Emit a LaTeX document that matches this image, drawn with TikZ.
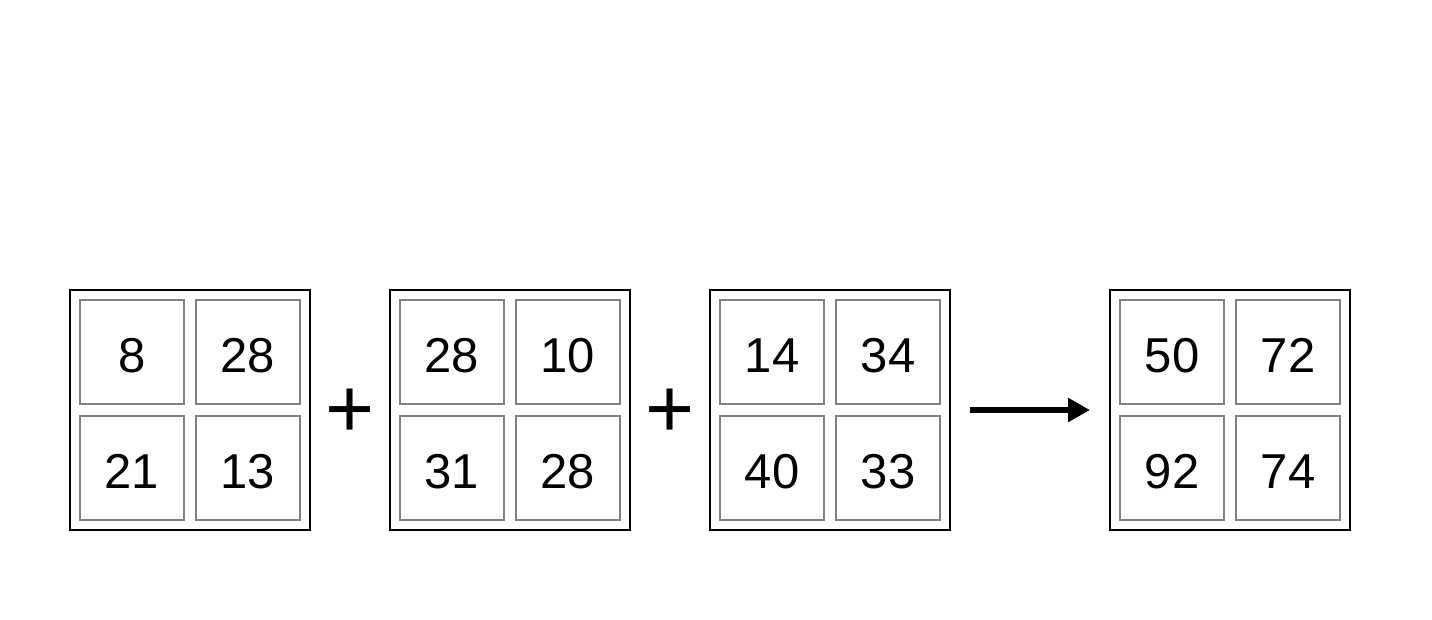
\documentclass[tikz,border=0pt]{standalone}
\usepackage{fontspec}
\setmainfont{Liberation Sans}
\usetikzlibrary{arrows.meta,positioning,calc}

\begin{document}
\begin{tikzpicture}[
    x=1pt, y=-1pt,
    grid/.style={rectangle, draw=black, line width=1.2pt, fill=white, minimum size=240pt, inner sep=0pt, outer sep=0pt},
    cell/.style={rectangle, draw=gray, line width=1.6pt, fill=white, minimum size=104pt, inner sep=0pt, outer sep=0pt, text height=40pt, text depth=0pt, font=\fontsize{49}{58}\selectfont},
    op/.style={inner sep=0pt, yshift=-3pt, font=\fontsize{84}{96}\selectfont},
    arr/.style={line width=5.8pt, -{Triangle[length=22pt,width=23pt]}},
    node distance=6pt and 6pt
]
    \useasboundingbox (0,0) rectangle (1432,619);
    % four 2x2 grids
    \foreach \g/\cx/\va/\vb/\vc/\vd in {a/190/8/28/21/13, b/510/28/10/31/28, c/830/14/34/40/33, d/1230/50/72/92/74} {
        \node[grid] (\g) at (\cx,410) {};
        \node[cell, above left=of \g.center] (\g-tl) {\va};
        \node[cell, above right=of \g.center] (\g-tr) {\vb};
        \node[cell, below left=of \g.center] (\g-bl) {\vc};
        \node[cell, below right=of \g.center] (\g-br) {\vd};
    }
    \node[op] (plus1) at ($(a.east)!0.5!(b.west)$) {+};
    \node[op] (plus2) at ($(b.east)!0.5!(c.west)$) {+};
    \draw[arr, shorten <=20pt, shorten >=20pt] (c) -- (d);
\end{tikzpicture}
\end{document}
